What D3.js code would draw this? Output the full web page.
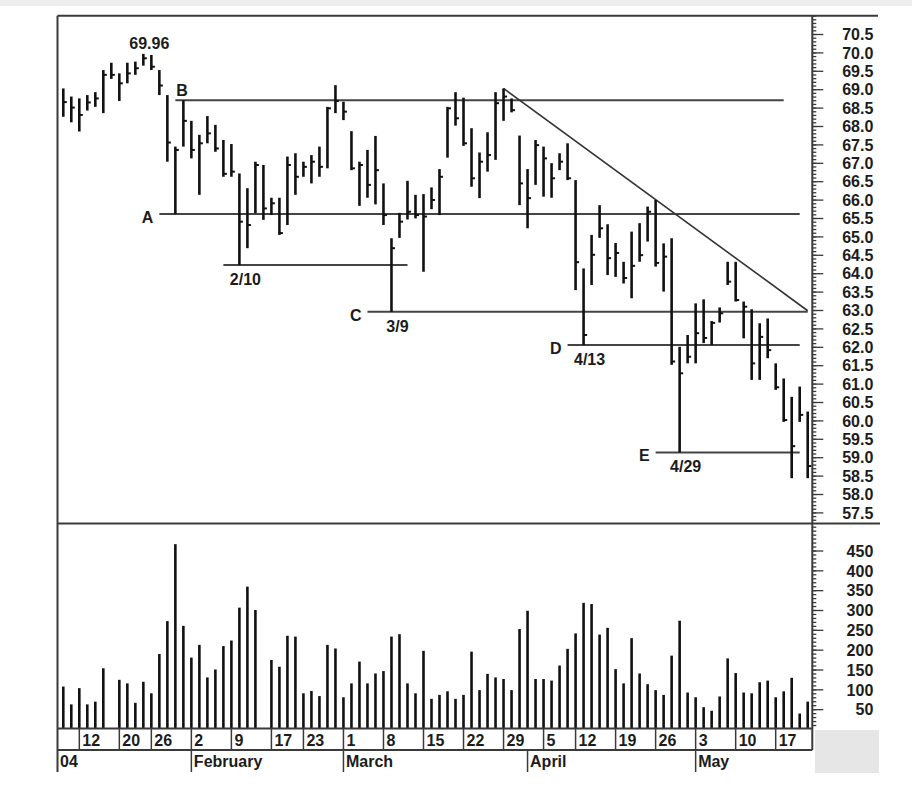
<!DOCTYPE html>
<html><head><meta charset="utf-8">
<script src="https://cdn.jsdelivr.net/npm/d3@7"></script>
<style>
html,body{margin:0;padding:0;background:#fff;}
svg{display:block;}
text{font-family:"Liberation Sans",Arial,sans-serif;font-weight:bold;fill:#1c1c1c;}
</style></head><body>
<svg id="chart" width="912" height="802"></svg>
<script>
// ---------- DATA ----------
const dates = [
 "2004-01-08","2004-01-09","2004-01-12","2004-01-13","2004-01-14","2004-01-15","2004-01-16","2004-01-20","2004-01-21","2004-01-22","2004-01-23","2004-01-26","2004-01-27","2004-01-28","2004-01-29","2004-01-30",
 "2004-02-02","2004-02-03","2004-02-04","2004-02-05","2004-02-06","2004-02-09","2004-02-10","2004-02-11","2004-02-12","2004-02-13","2004-02-17","2004-02-18","2004-02-19","2004-02-20","2004-02-23","2004-02-24","2004-02-25","2004-02-26","2004-02-27",
 "2004-03-01","2004-03-02","2004-03-03","2004-03-04","2004-03-05","2004-03-08","2004-03-09","2004-03-10","2004-03-11","2004-03-12","2004-03-15","2004-03-16","2004-03-17","2004-03-18","2004-03-19","2004-03-22","2004-03-23","2004-03-24","2004-03-25","2004-03-26","2004-03-29","2004-03-30","2004-03-31",
 "2004-04-01","2004-04-02","2004-04-05","2004-04-06","2004-04-07","2004-04-08","2004-04-12","2004-04-13","2004-04-14","2004-04-15","2004-04-16","2004-04-19","2004-04-20","2004-04-21","2004-04-22","2004-04-23","2004-04-26","2004-04-27","2004-04-28","2004-04-29","2004-04-30",
 "2004-05-03","2004-05-04","2004-05-05","2004-05-06","2004-05-07","2004-05-10","2004-05-11","2004-05-12","2004-05-13","2004-05-14","2004-05-17","2004-05-18","2004-05-19","2004-05-20","2004-05-21"
];
const high = [
 69.02,68.80,68.75,68.84,68.92,69.52,69.72,69.43,69.72,69.75,69.96,69.93,69.52,68.84,67.44,68.70,
 68.14,67.76,68.27,68.03,67.62,67.51,66.71,66.31,67.03,66.94,66.05,66.05,67.17,67.26,67.03,67.21,67.44,68.52,69.11,
 68.66,67.86,67.03,67.35,67.73,66.44,64.95,65.64,66.51,66.13,66.15,66.33,66.83,68.52,68.92,68.77,67.94,67.28,67.83,68.92,69.02,68.75,67.74,
 66.83,67.62,67.44,66.99,67.26,67.53,66.53,64.13,65.04,65.85,65.33,64.82,64.31,65.13,65.36,65.81,65.99,64.81,64.95,62.00,62.32,
 63.18,63.29,62.70,63.07,64.31,64.31,63.23,63.02,62.64,62.77,61.55,61.14,60.64,60.92,60.24
];
const low = [
 68.25,68.10,67.85,68.42,68.52,68.35,69.28,68.68,69.16,69.39,69.64,69.52,68.84,67.03,65.61,67.44,
 67.12,66.13,67.53,67.30,66.62,66.62,64.22,64.68,65.63,65.45,65.58,65.04,65.31,66.13,66.62,66.44,66.62,66.85,68.35,
 68.16,66.80,65.83,66.05,65.87,65.31,62.95,64.96,65.46,65.49,64.04,65.74,65.58,67.14,68.01,67.46,66.35,66.04,66.76,67.08,68.14,68.37,65.85,
 65.22,66.40,66.08,66.05,66.80,66.53,63.54,62.05,63.68,64.96,63.95,63.90,63.72,63.32,64.31,64.86,64.18,63.50,61.51,59.13,61.55,
 61.55,62.10,62.05,62.66,63.68,63.23,62.23,61.10,61.10,61.69,60.83,59.96,58.43,59.96,58.43
];
const close = [
 68.65,68.50,68.30,68.64,68.75,69.39,69.39,69.16,69.43,69.57,69.84,69.61,69.10,67.55,67.35,68.14,
 67.35,67.53,67.80,67.39,66.70,66.76,65.40,65.31,66.94,65.76,65.90,65.09,66.94,66.62,66.89,67.03,66.89,68.48,68.68,
 68.39,66.85,66.94,66.40,66.80,65.58,64.68,65.40,65.67,65.58,65.54,65.99,66.62,68.48,68.21,67.53,66.58,67.03,67.21,68.62,68.80,68.43,66.44,
 66.04,67.48,67.12,66.58,67.03,66.58,64.30,62.32,64.50,65.22,64.41,64.55,63.87,64.20,64.49,65.67,64.28,64.45,61.60,61.28,61.73,
 62.37,62.24,62.65,62.91,63.77,63.27,63.09,61.55,62.27,61.91,60.90,60.01,59.30,60.15,58.76
];
const volume = [
 107,62,103,62,69,153,0,124,115,66,119,90,189,272,466,260,
 180,212,130,150,209,223,306,359,300,0,174,157,235,233,90,96,83,212,203,
 80,115,170,115,140,146,233,239,115,90,197,76,86,95,76,86,195,98,139,130,126,98,252,
 298,126,126,122,160,202,241,318,315,238,255,151,115,229,140,113,98,86,185,273,92,
 80,55,46,82,178,141,92,90,118,122,80,95,129,39,69
];
const weekTickDates = ["2004-01-12","2004-01-20","2004-01-26","2004-02-02","2004-02-09","2004-02-17","2004-02-23",
 "2004-03-01","2004-03-08","2004-03-15","2004-03-22","2004-03-29","2004-04-05","2004-04-12","2004-04-19","2004-04-26",
 "2004-05-03","2004-05-10","2004-05-17"];
const weekTickLabels = ["12","20","26","2","9","17","23","1","8","15","22","29","5","12","19","26","3","10","17"];
const monthTickDates = ["2004-01-08","2004-02-02","2004-03-01","2004-04-01","2004-05-03"];
const monthTickLabels = ["04","February","March","April","May"];
const priceTickLabels = d3.range(57.5, 70.51, 0.5);
const volumeTickLabels = [50,100,150,200,250,300,350,400,450];
// horizontal support/resistance levels: [label, price, from date, to date]
const levelNames  = ["A","B","C","D","E",""];
const levelPrices = [65.61,68.70,62.95,62.05,59.13,64.22];
const levelFrom   = ["2004-01-27","2004-01-29","2004-03-04","2004-04-08","2004-04-26","2004-02-06"];
const levelTo     = ["2004-05-20","2004-05-18","2004-05-21","2004-05-20","2004-05-20","2004-03-11"];
const dateNoteDates = ["2004-02-10","2004-03-09","2004-04-13","2004-04-29"];
const dateNoteLabels = ["2/10","3/9","4/13","4/29"];
const trendDates = ["2004-03-29","2004-05-21"];
const trendPrices = [69.02,62.98];
const peakDate = "2004-01-23", peakLabel = "69.96";

// ---------- DRAW ----------
const svg = d3.select("#chart");
const ink = "#1c1c1c", lineCol = "#3a3a3a";
svg.append("rect").attr("x",0).attr("y",0).attr("width",912).attr("height",6).attr("fill","#eeeeee");

const L = 57.5, R = 812.3, T = 15.7, PB = 522.7, VB = 728.5;
const x = d3.scalePoint().domain(dates).range([63.3, 807.7]);
const y = d3.scaleLinear().domain([57.5, 70.5]).range([512.4, 34]);
const yv = d3.scaleLinear().domain([0, 450]).range([729, 550.5]);
const idx = d => dates.indexOf(d);

// frame
svg.append("line").attr("x1",L).attr("x2",878).attr("y1",T).attr("y2",T).attr("stroke",lineCol).attr("stroke-width",2);
svg.append("line").attr("x1",L).attr("x2",880).attr("y1",PB+0.8).attr("y2",PB+0.8).attr("stroke",lineCol).attr("stroke-width",2);
svg.append("line").attr("x1",L).attr("x2",L).attr("y1",T).attr("y2",772).attr("stroke",lineCol).attr("stroke-width",2);

// gray box lower right
svg.append("rect").attr("x",815).attr("y",730).attr("width",64).attr("height",43).attr("fill","#e6e6e6");

// price axis
const pAxisMinor = d3.axisRight(y).tickValues(d3.range(57.3, 71.01, 0.1)).tickSize(4).tickFormat("");
const gpm = svg.append("g").attr("transform",`translate(${R},0)`).call(pAxisMinor);
const pAxis = d3.axisRight(y).tickValues(priceTickLabels).tickSize(11).tickFormat(d3.format(".1f"));
const gp = svg.append("g").attr("transform",`translate(${R},0)`).call(pAxis);
[gpm,gp].forEach(g=>{g.select(".domain").remove(); g.selectAll("line").attr("stroke",lineCol).attr("stroke-width",1.3);});
gp.selectAll("text").attr("x",61).attr("text-anchor","end").attr("dy","0.36em").style("font-size","16px").attr("fill",ink);
svg.append("line").attr("x1",R).attr("x2",R).attr("y1",T).attr("y2",750).attr("stroke",lineCol).attr("stroke-width",2);

// volume axis
const vAxisMinor = d3.axisRight(yv).tickValues(d3.range(10, 511, 10)).tickSize(4).tickFormat("");
const gvm = svg.append("g").attr("transform",`translate(${R},0)`).call(vAxisMinor);
const vAxis = d3.axisRight(yv).tickValues(volumeTickLabels).tickSize(11).tickFormat(d3.format("d"));
const gv = svg.append("g").attr("transform",`translate(${R},0)`).call(vAxis);
[gvm,gv].forEach(g=>{g.select(".domain").remove(); g.selectAll("line").attr("stroke",lineCol).attr("stroke-width",1.3);});
gv.selectAll("text").attr("x",61).attr("text-anchor","end").attr("dy","0.36em").style("font-size","16px").attr("fill",ink);

// levels
levelNames.forEach((n,i)=>{
  const x1 = x(levelFrom[i]), x2 = x(levelTo[i]), yy = y(levelPrices[i]);
  svg.append("line").attr("x1",x1).attr("x2",x2).attr("y1",yy).attr("y2",yy).attr("stroke","#444").attr("stroke-width",2);
  if (n === "B") {
    svg.append("text").attr("x",x1+1).attr("y",yy-4).text(n).style("font-size","16px");
  } else if (n) {
    svg.append("text").attr("x",x1-6).attr("y",yy+9).attr("text-anchor","end").text(n).style("font-size","16px");
  }
});
// trend line
svg.append("line").attr("x1",x(trendDates[0])).attr("y1",y(trendPrices[0]))
  .attr("x2",x(trendDates[1])).attr("y2",y(trendPrices[1])).attr("stroke","#333").attr("stroke-width",1.6);

// price bars (high-low with close tick)
const bars = svg.append("g");
dates.forEach((d,i)=>{
  const xx = x(d);
  bars.append("line").attr("x1",xx).attr("x2",xx).attr("y1",y(high[i])).attr("y2",y(low[i]))
    .attr("stroke","#111").attr("stroke-width",2.6);
  bars.append("line").attr("x1",xx).attr("x2",xx+3.5).attr("y1",y(close[i])).attr("y2",y(close[i]))
    .attr("stroke","#111").attr("stroke-width",2);
});

// annotations
svg.append("text").attr("x",x(peakDate)+6).attr("y",y(high[idx(peakDate)])-5).attr("text-anchor","middle")
  .text(peakLabel).style("font-size","16px");
dateNoteDates.forEach((d,i)=>{
  svg.append("text").attr("x",x(d)+6).attr("y",y(low[idx(d)])+20).attr("text-anchor","middle")
    .text(dateNoteLabels[i]).style("font-size","16px");
});

// volume bars
svg.append("g").selectAll("line").data(dates).join("line")
  .attr("x1",d=>x(d)).attr("x2",d=>x(d)).attr("y1",(d,i)=>yv(volume[i])).attr("y2",VB)
  .attr("stroke","#111").attr("stroke-width",2.6);

// date axis rows
svg.append("line").attr("x1",L).attr("x2",R).attr("y1",VB).attr("y2",VB).attr("stroke",lineCol).attr("stroke-width",2);
svg.append("line").attr("x1",L).attr("x2",R).attr("y1",750).attr("y2",750).attr("stroke",lineCol).attr("stroke-width",2);
weekTickDates.forEach((d,i)=>{
  const xx = x(d);
  svg.append("line").attr("x1",xx).attr("x2",xx).attr("y1",VB).attr("y2",750).attr("stroke",lineCol).attr("stroke-width",1.5);
  svg.append("text").attr("x",xx+3).attr("y",746).text(weekTickLabels[i]).style("font-size","16px");
});
monthTickDates.forEach((d,i)=>{
  const xx = i===0 ? L : x(d);
  if (i>0) svg.append("line").attr("x1",xx).attr("x2",xx).attr("y1",750).attr("y2",772).attr("stroke",lineCol).attr("stroke-width",1.5);
  svg.append("text").attr("x",xx+2.5).attr("y",767).text(monthTickLabels[i]).style("font-size","16px");
});
</script>
</body></html>
